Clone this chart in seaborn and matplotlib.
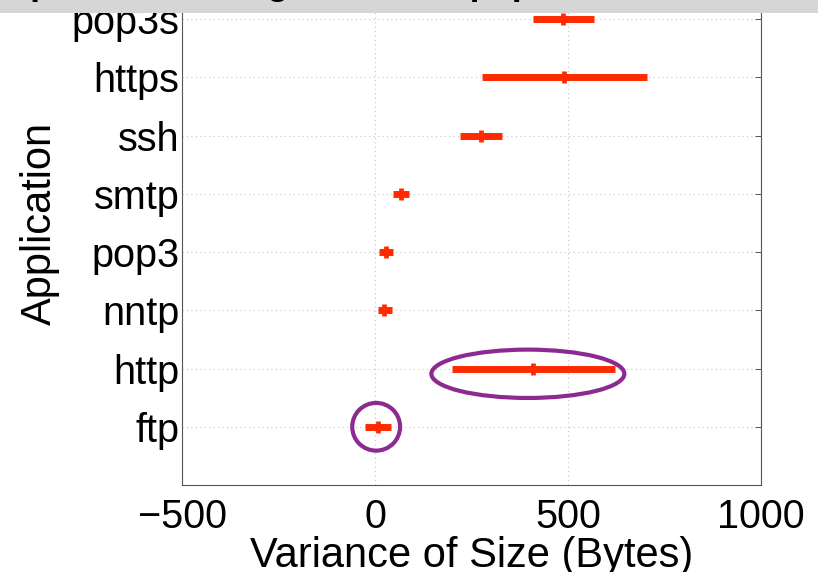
import matplotlib
matplotlib.use("Agg")
import matplotlib.pyplot as plt
from matplotlib.patches import Ellipse, Rectangle
import seaborn as sns
import pandas as pd

# ---- data ----
apps = ["ftp", "http", "nntp", "pop3", "smtp", "ssh", "https", "pop3s"]
center = [8, 409, 23, 28, 67, 275, 490, 487]
low = [-26, 199, 8, 10, 47, 220, 277, 409]
high = [41, 622, 44, 47, 88, 329, 705, 567]

x_ticks = [-500, 0, 500, 1000]
x_label = "Variance of Size (Bytes)"
y_label = "Application"
title_text = "Spread of Sizing Variance: p2p vs. others"

# highlight ellipses: (app, x centre, y offset, width, height)
hl_app = ["http", "ftp"]
hl_x = [396, 3]
hl_dy = [-0.09, 0.0]
hl_w = [500, 124]
hl_h = [0.83, 0.82]

RED = "#ff2a00"
PURPLE = "#8c2a92"

sns.set_style("white")
plt.rcParams["font.family"] = ["Liberation Sans", "DejaVu Sans"]
plt.rcParams["axes.unicode_minus"] = True
plt.rcParams["text.color"] = "black"
plt.rcParams["axes.labelcolor"] = "black"
plt.rcParams["xtick.labelcolor"] = "black"
plt.rcParams["ytick.labelcolor"] = "black"

df = pd.DataFrame({"app": apps, "center": center, "low": low, "high": high})
df["pos"] = range(1, len(apps) + 1)

fig = plt.figure(figsize=(8.18, 5.72), dpi=100)
ax = fig.add_axes([182 / 818, 1 - 485 / 572, (761 - 182) / 818, 524 / 572])

# interval bars
ax.hlines(df["pos"], df["low"], df["high"], color=RED, lw=5.0, zorder=3)
# centre ticks
sns.scatterplot(data=df, x="center", y="pos", marker="|", s=85, linewidth=3.4,
                color=RED, ax=ax, zorder=4, legend=False)

# highlight ellipses
for a, xc, dy, w, h in zip(hl_app, hl_x, hl_dy, hl_w, hl_h):
    yc = apps.index(a) + 1 + dy
    ax.add_patch(Ellipse((xc, yc), w, h, fill=False, edgecolor=PURPLE,
                         lw=3.0, zorder=5))

ax.set_xlim(-500, 1000)
ax.set_ylim(0, 9)
ax.set_xticks(x_ticks)
ax.set_yticks(df["pos"])
ax.set_yticklabels(apps)
ax.set_xlabel(x_label, fontsize=30, labelpad=0)
ax.set_ylabel(y_label, fontsize=30, labelpad=8)
ax.tick_params(axis="both", labelsize=28.5, direction="in", length=4.5,
               width=0.7, color="#555555", top=True, right=True)
ax.tick_params(axis="x", pad=9)
ax.tick_params(axis="y", pad=2)
ax.grid(True, linestyle=(0, (1, 3)), color="#c4c4c4", lw=0.8)
ax.set_axisbelow(True)
for s in ax.spines.values():
    s.set_color("#555555")
    s.set_linewidth(0.8)

# cut-off title band at the top
fig.patches.append(Rectangle((0, 1 - 13 / 572), 1, 13 / 572,
                             transform=fig.transFigure, facecolor="#d6d6d6",
                             edgecolor="none", zorder=10))
fig.text(6 / 818, 1 + 6 / 572, title_text, fontsize=26, fontweight="bold",
         ha="left", va="baseline", color="black", zorder=11)

fig.savefig("out.png", dpi=100)
